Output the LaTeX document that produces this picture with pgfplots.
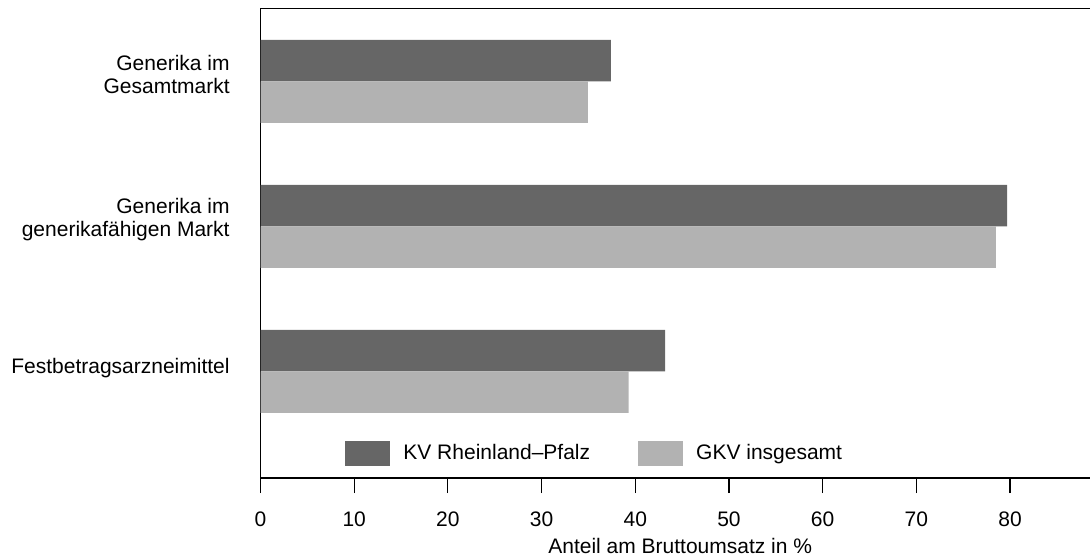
\documentclass[border=0pt]{standalone}
\usepackage{pgfplots}
\pgfplotsset{compat=1.18}
\usepackage{fontspec}
\setmainfont{Liberation Sans}
\definecolor{darkbar}{HTML}{666666}
\definecolor{lightbar}{HTML}{B2B2B2}
\begin{document}
\fontsize{10.5}{11.5}\selectfont
\begin{tikzpicture}
\useasboundingbox (0,0) rectangle (545pt,278.5pt);
\clip (0,0) rectangle (545pt,278.5pt);
\begin{axis}[
  at={(130.25pt,39.5pt)}, anchor=south west,
  scale only axis, width=414.75pt, height=234.75pt,
  xmin=0, xmax=88.54, ymin=-0.736, ymax=2.503,
  axis x line*=bottom, axis y line*=left,
  axis line style={line width=0.6pt, black},
  xbar, bar width=0.286,
  xtick={0,10,20,30,40,50,60,70,80},
  tick align=outside, major tick length=7.5pt,
  x tick style={line width=0.6pt, black},
  ytick={1,2},
  yticklabels={{Generika im\\generikafähigen Markt},{Generika im\\Gesamtmarkt}},
  y tick style={draw=none},
  yticklabel style={align=right, anchor=east, inner sep=0pt, xshift=-7.75pt, yshift=3.5pt, font=\fontsize{10.5}{11.5}\selectfont},
  extra y ticks={0},
  extra y tick labels={Festbetragsarzneimittel},
  extra y tick style={y tick style={draw=none}, yticklabel style={yshift=-2pt}},
  xticklabel style={anchor=north, inner sep=0pt, yshift=-9.25pt, font=\fontsize{10.5}{11.5}\selectfont},
  /pgf/number format/assume math mode=true,
  xlabel={Anteil am Bruttoumsatz in \%},
  xlabel style={at={(rel axis cs:0.506,0)}, anchor=base, yshift=-37.5pt, inner sep=0pt, font=\fontsize{10.5}{11.5}\selectfont},
  clip=false,
  legend style={at={(axis cs:9.02,-0.567)}, anchor=west, draw=none, fill=none, inner sep=0pt,
    nodes={inner sep=0pt, font=\fontsize{10.5}{11.5}\selectfont},
    legend columns=2,
    /tikz/every odd column/.append style={column sep=6.5pt},
    /tikz/every even column/.append style={column sep=24pt}},
  legend image code/.code={\fill[#1] (0pt,-6.25pt) rectangle (22.5pt,6.25pt);},
]
\addplot[fill=darkbar, draw=none, bar shift=0.143] coordinates {(43.2,0) (79.7,1) (37.4,2)};
\addlegendentry{KV Rheinland–Pfalz}
\addplot[fill=lightbar, draw=none, bar shift=-0.143] coordinates {(39.3,0) (78.5,1) (34.95,2)};
\addlegendentry{GKV insgesamt}
\draw[line width=0.6pt, black] (rel axis cs:0,1) -- (rel axis cs:1,1);
\end{axis}
\end{tikzpicture}
\end{document}
